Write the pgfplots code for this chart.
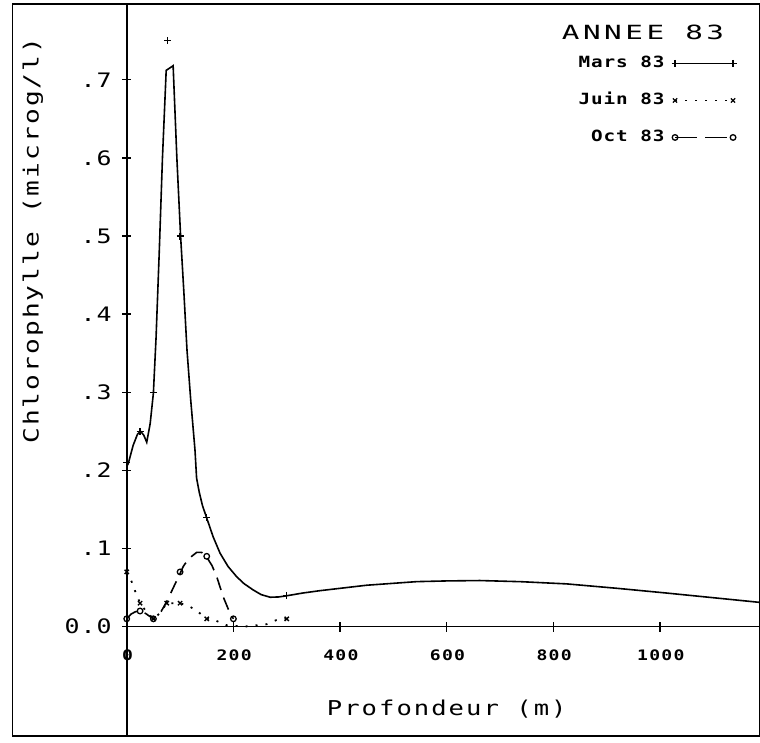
\documentclass[border=0pt]{standalone}
\usepackage{pgfplots}
\pgfplotsset{compat=1.18}
\usepackage{fontspec}
\setmainfont{DejaVu Sans Mono}
\newfontfamily\ytf{DejaVu Sans Mono}[FakeStretch=1.25, LetterSpace=5]
\newfontfamily\xtf{DejaVu Sans Mono}[FakeStretch=1.25, LetterSpace=9]
\newfontfamily\lgf{DejaVu Sans Mono}[FakeStretch=1.25, LetterSpace=6]
\newfontfamily\ttf{DejaVu Sans Mono}[FakeStretch=1.5, LetterSpace=18]
\newfontfamily\alf{DejaVu Sans Mono}[FakeStretch=1.25, LetterSpace=10]
\begin{document}
\begin{tikzpicture}
\begin{axis}[
  scale only axis, width=747.3bp, height=732bp,
  xmin=-213.8, xmax=1187.4, ymin=-0.140, ymax=0.797,
  xtick=\empty, ytick=\empty,
  axis line style={line width=1.4bp},
  legend plot pos=right,
  legend cell align=right,
  legend style={at={(rel axis cs:0.9686,0.929)}, anchor=north east, draw=none, fill=none,
    inner sep=0pt, outer sep=0pt, row sep=22bp, column sep=7bp,
    font=\lgf\bfseries\fontsize{15.5}{18}\selectfont,
    nodes={inner sep=0pt, text height=12bp, text depth=3bp}},
]
% Mars 83 curve
\addplot[forget plot, line width=1.6bp, black] coordinates {
(0,0.205) (3,0.209) (12,0.232) (20,0.246) (26,0.25) (32,0.245) (37.5,0.236)
(44,0.26) (50,0.299) (55,0.37) (61,0.48) (67,0.6) (74,0.712) (87,0.718)
(94,0.6) (101,0.5) (107,0.43) (113,0.354) (120,0.29) (128,0.226) (131,0.19)
(136,0.172) (142,0.155) (151,0.137) (162,0.115) (175,0.094) (190,0.077)
(206,0.064) (220,0.055) (237,0.047) (252,0.041) (269,0.0376) (285,0.038)
(300,0.0395) (330,0.043) (362,0.046) (450,0.053) (544,0.0576) (600,0.0585)
(662,0.059) (740,0.0575) (825,0.0547) (920,0.049) (1012,0.043) (1100,0.037) (1187.4,0.031)};
\addplot[forget plot, only marks, mark=+, mark size=3.5bp, line width=1.4bp] coordinates {
(0,0.21) (25,0.25) (50,0.30) (77,0.75) (100,0.50) (150,0.14) (300,0.04)};
% Juin 83
\addplot[forget plot, line width=1.8bp, dash pattern=on 2bp off 8bp] coordinates {
(0,0.07) (9,0.058) (16,0.045) (25,0.03) (38,0.018) (50,0.01) (62,0.017) (75,0.03)
(100,0.03) (116,0.0265) (131,0.0205) (150,0.01) (166,0.008) (186,0.002) (220,0.0)
(262,0.003) (281,0.0085) (300,0.01)};
\addplot[forget plot, only marks, mark=x, mark size=3bp, line width=1.4bp] coordinates {
(0,0.07) (25,0.03) (50,0.01) (75,0.03) (100,0.03) (150,0.01) (300,0.01)};
% Oct 83
\addplot[forget plot, line width=1.6bp, dash pattern=on 13bp off 8bp] coordinates {
(0,0.01) (8,0.016) (16,0.019) (25,0.02) (35,0.017) (50,0.01) (65,0.02) (75,0.032)
(84,0.045) (100,0.068) (106,0.077) (115.6,0.0866) (131,0.095) (140.6,0.095)
(150,0.089) (160,0.078) (168.7,0.064) (181,0.038) (193.7,0.017) (200,0.01)};
\addplot[forget plot, only marks, mark=o, mark size=2.8bp, line width=1.3bp] coordinates {
(0,0.01) (25,0.02) (50,0.01) (100,0.07) (150,0.09) (200,0.01)};
% legend
\addlegendimage{legend image code/.code={\draw[line width=1.4bp] plot[mark=+, mark size=3.5bp] coordinates {(0bp,0bp) (58bp,0bp)};}}
\addlegendentry{Mars 83}
\addlegendimage{legend image code/.code={\draw[line width=1.8bp, dash pattern=on 2bp off 8bp] plot[mark=x, mark size=3bp, mark options={solid,line width=1.3bp}] coordinates {(0bp,0bp) (58bp,0bp)};}}
\addlegendentry{Juin 83}
\addlegendimage{legend image code/.code={\draw[line width=1.6bp, dash pattern=on 22bp off 8bp] plot[mark=o, mark size=2.8bp, mark options={solid,line width=1.3bp}] coordinates {(0bp,0bp) (58bp,0bp)};}}
\addlegendentry{Oct 83}
% axis lines through origin
\draw[line width=1.6bp] (axis cs:0,-0.140) -- (axis cs:0,0.797);
\draw[line width=1.6bp] (axis cs:-8,0) -- (axis cs:1187.4,0);
\draw[line width=1.3bp] ([yshift=-5bp]axis cs:200,0) -- ([yshift=5bp]axis cs:200,0);
\draw[line width=1.3bp] ([yshift=-5bp]axis cs:400,0) -- ([yshift=5bp]axis cs:400,0);
\draw[line width=1.3bp] ([yshift=-5bp]axis cs:600,0) -- ([yshift=5bp]axis cs:600,0);
\draw[line width=1.3bp] ([yshift=-5bp]axis cs:800,0) -- ([yshift=5bp]axis cs:800,0);
\draw[line width=1.3bp] ([yshift=-5bp]axis cs:1000,0) -- ([yshift=5bp]axis cs:1000,0);
\draw[line width=1.3bp] ([xshift=-4.5bp]axis cs:0,0.1) -- ([xshift=4.5bp]axis cs:0,0.1);
\draw[line width=1.3bp] ([xshift=-4.5bp]axis cs:0,0.2) -- ([xshift=4.5bp]axis cs:0,0.2);
\draw[line width=1.3bp] ([xshift=-4.5bp]axis cs:0,0.3) -- ([xshift=4.5bp]axis cs:0,0.3);
\draw[line width=1.3bp] ([xshift=-4.5bp]axis cs:0,0.4) -- ([xshift=4.5bp]axis cs:0,0.4);
\draw[line width=1.3bp] ([xshift=-4.5bp]axis cs:0,0.5) -- ([xshift=4.5bp]axis cs:0,0.5);
\draw[line width=1.3bp] ([xshift=-4.5bp]axis cs:0,0.6) -- ([xshift=4.5bp]axis cs:0,0.6);
\draw[line width=1.3bp] ([xshift=-4.5bp]axis cs:0,0.7) -- ([xshift=4.5bp]axis cs:0,0.7);
% tick labels
\begin{scope}[every node/.style={font=\xtf\bfseries\fontsize{14.5}{17}\selectfont, inner sep=0pt, xshift=0.8bp}]
\node at (axis cs:0,-0.036) {0};
\node at (axis cs:200,-0.036) {200};
\node at (axis cs:400,-0.036) {400};
\node at (axis cs:600,-0.036) {600};
\node at (axis cs:800,-0.036) {800};
\node at (axis cs:1000,-0.036) {1000};
\end{scope}
\begin{scope}[every node/.style={font=\ytf\fontsize{20}{24}\selectfont, inner sep=0pt, anchor=east}]
\node at (axis cs:-28,0) {0.0};
\node at (axis cs:-28,0.1) {.1};
\node at (axis cs:-28,0.2) {.2};
\node at (axis cs:-28,0.3) {.3};
\node at (axis cs:-28,0.4) {.4};
\node at (axis cs:-28,0.5) {.5};
\node at (axis cs:-28,0.6) {.6};
\node at (axis cs:-28,0.7) {.7};
\end{scope}
% axis labels and title
\node[font=\alf\fontsize{20.5}{24}\selectfont, inner sep=0pt] at (axis cs:600,-0.105) {Profondeur (m)};
\node[font=\alf\fontsize{21}{24}\selectfont, inner sep=0pt, rotate=90] at (axis cs:-176,0.494) {Chlorophylle (microg/l)};
\node[font=\ttf\fontsize{19.6}{24}\selectfont, inner sep=0pt] at (axis cs:968,0.761) {ANNEE 83};
\end{axis}
\pgfresetboundingbox
\path ([xshift=-12.7bp,yshift=-7bp]current axis.south west) rectangle ([yshift=4bp]current axis.north east);
\end{tikzpicture}
\end{document}
